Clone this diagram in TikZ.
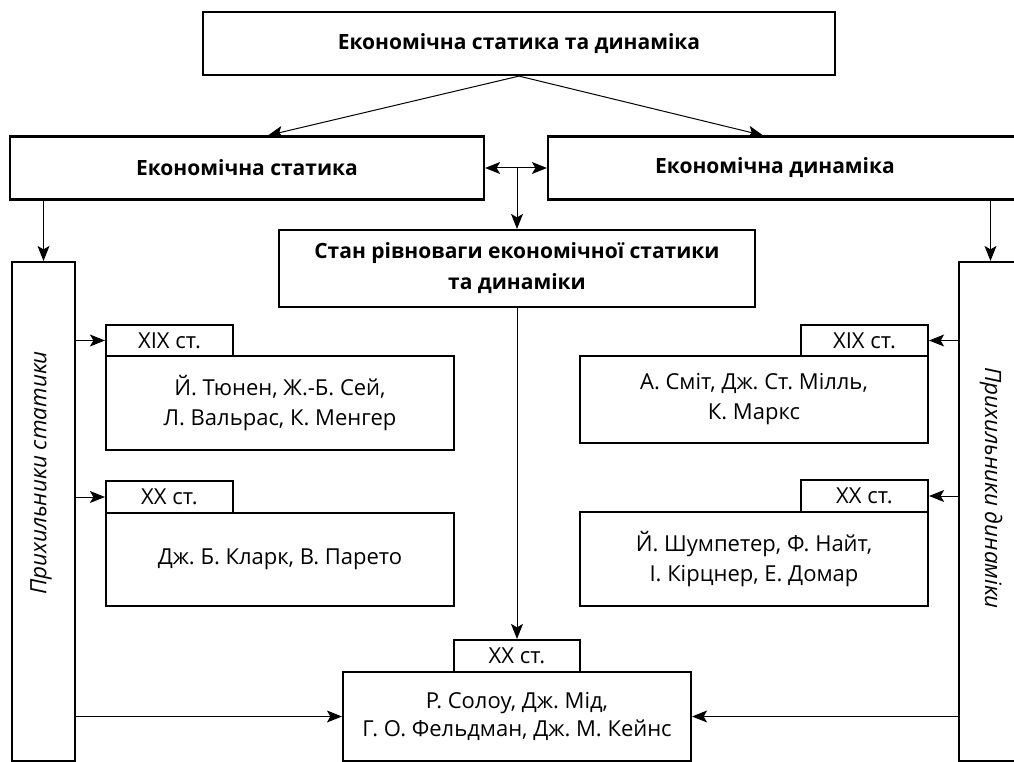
\documentclass[tikz,border=0pt]{standalone}
\usepackage{fontspec}
\setmainfont{Open Sans}
\frenchspacing
\usetikzlibrary{arrows.meta}
\tikzset{mytip/.tip={Stealth[length=15pt,width=12pt,inset=3.5pt]}}
\begin{document}
\begin{tikzpicture}[x=1pt,y=-1pt,
  box/.style={draw, line width=2.2pt, align=center, inner sep=0pt, font=\fontsize{22}{30}\selectfont},
  bbox/.style={box, font=\fontsize{21}{31}\selectfont\bfseries},
  vtext/.style={font=\fontsize{22.5}{30}\selectfont\itshape},
  arr/.style={line width=1pt, -{mytip}},
  arrb/.style={line width=1pt, {mytip}-{mytip}}]
\useasboundingbox (0,0) rectangle (1014,762);
\clip (0,0) rectangle (1014,762);
% top level
\node[bbox, minimum width=632pt, minimum height=63pt] (top) at (519,43.5) {Економічна статика та динаміка};
\node[bbox, minimum width=474pt, minimum height=63pt] (stat) at (247,168) {Економічна статика};
\node[bbox, minimum width=472pt, minimum height=63pt] (dyn) at (784,168) {Економічна динаміка\hspace*{18pt}};
\node[bbox, minimum width=476pt, minimum height=77pt] (stan) at (517,268.5) {Стан рівноваги економічної статики\\та динаміки};
% columns
\node[box, minimum width=63pt, minimum height=499pt] (lcol) at (43.5,511.5) {};
\node[box, minimum width=63pt, minimum height=499pt] (rcol) at (990.5,511.5) {};
\node[vtext, rotate=90] (ltxt) at (41,473) {Прихильники статики};
\node[vtext, rotate=-90] (rtxt) at (991,488) {Прихильники динаміки};
% left group
\node[box, minimum width=127pt, minimum height=31pt] (ltab1) at (169.5,340.5) {XIX ст.};
\node[box, minimum width=348pt, minimum height=94pt] (lbox1) at (280,403) {Й. Тюнен, Ж.-Б. Сей,\\Л. Вальрас, К. Менгер};
\node[box, minimum width=127pt, minimum height=32pt] (ltab2) at (169.5,497) {XX ст.};
\node[box, minimum width=348pt, minimum height=93pt] (lbox2) at (280,559.5) {Дж. Б. Кларк, В. Парето};
% right group
\node[box, minimum width=127pt, minimum height=31pt] (rtab1) at (864.5,340.5) {XIX ст.};
\node[box, minimum width=348pt, minimum height=87pt] (rbox1) at (754,399.5) {А. Сміт, Дж. Ст. Мілль,\\К. Маркс};
\node[box, minimum width=127pt, minimum height=32pt] (rtab2) at (864.5,496) {XX ст.};
\node[box, minimum width=348pt, minimum height=94pt] (rbox2) at (754,559) {Й. Шумпетер, Ф. Найт,\\І. Кірцнер, Е. Домар};
% bottom group
\node[box, minimum width=126pt, minimum height=32pt] (btab) at (517,656) {XX ст.};
\node[box, minimum width=348pt, minimum height=89pt, font=\fontsize{22}{28}\selectfont] (bbox) at (517,716.5) {Р. Солоу, Дж. Мід,\\Г. О. Фельдман, Дж. М. Кейнс};
% connectors
\draw[arr] (top.south) -- ([xshift=21pt]stat.north);
\draw[arr] (top.south) -- ([xshift=-21pt]dyn.north);
\draw[arrb] (stat.east) -- (dyn.west);
\draw[arr] (stan.north |- stat.east) -- (stan.north);
\draw[arr] (stat.south -| lcol.north) -- (lcol.north);
\draw[arr] (dyn.south -| rcol.north) -- (rcol.north);
\draw[arr] (lcol.east |- ltab1.west) -- (ltab1.west);
\draw[arr] (lcol.east |- ltab2.west) -- (ltab2.west);
\draw[arr] (rcol.west |- rtab1.east) -- (rtab1.east);
\draw[arr] (rcol.west |- rtab2.east) -- (rtab2.east);
\draw[arr] (stan.south) -- (btab.north);
\draw[arr] (lcol.east |- bbox.west) -- (bbox.west);
\draw[arr] (rcol.west |- bbox.east) -- (bbox.east);
\end{tikzpicture}
\end{document}
